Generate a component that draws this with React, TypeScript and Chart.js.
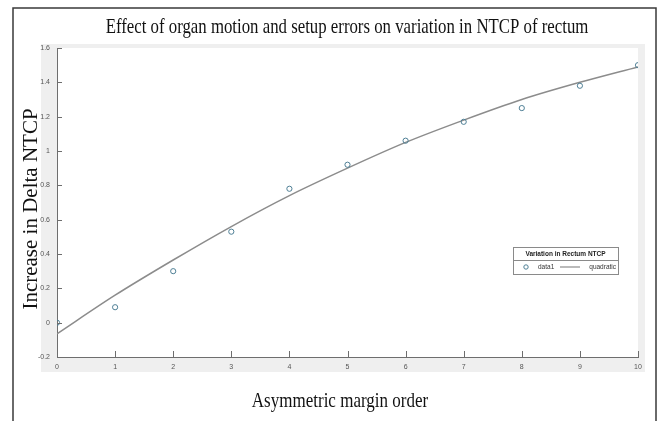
import React, { useEffect, useRef } from "react";
import { Chart, registerables } from "chart.js";

Chart.register(...registerables);

const marginOrder = [0, 1, 2, 3, 4, 5, 6, 7, 8, 9, 10];
const deltaNTCP = [0.0, 0.09, 0.3, 0.53, 0.78, 0.92, 1.06, 1.17, 1.25, 1.38, 1.5];
const quadraticFit = [-0.065, 0.16, 0.365, 0.56, 0.74, 0.9, 1.05, 1.18, 1.3, 1.4, 1.49];
const titleText = "Effect of organ motion and setup errors on variation in NTCP of rectum";
const xLabel = "Asymmetric margin order";
const yLabel = "Increase in Delta NTCP";
const legendTitle = "Variation in Rectum NTCP";
const seriesNames = ["data1", "quadratic"];

const POINT_COLOR = "#4f8096";
const LINE_COLOR = "#8c8c8c";
const AXIS_COLOR = "#6e6e6e";
const SERIF = "'Liberation Serif', 'Times New Roman', serif";

function condensedText(ctx: any, text: string, x: number, y: number, sx: number) {
  ctx.save();
  ctx.translate(x, y);
  ctx.scale(sx, 1);
  ctx.fillText(text, 0, 0);
  ctx.restore();
}

const decorPlugin = {
  id: "decor",
  beforeDraw(chart: any) {
    const { ctx, chartArea: a } = chart;
    ctx.save();
    ctx.fillStyle = "#ffffff";
    ctx.fillRect(0, 0, chart.width, chart.height);
    ctx.fillStyle = "#efefef";
    ctx.fillRect(a.left - 16, a.top - 4, a.right - a.left + 23, a.bottom - a.top + 19);
    ctx.fillStyle = "#ffffff";
    ctx.fillRect(a.left, a.top, a.right - a.left, a.bottom - a.top);
    ctx.strokeStyle = "#3a3a3a";
    ctx.lineWidth = 1.5;
    ctx.beginPath();
    ctx.moveTo(13, chart.height + 5);
    ctx.lineTo(13, 8);
    ctx.lineTo(656, 8);
    ctx.lineTo(656, chart.height + 5);
    ctx.stroke();
    ctx.restore();
  },
  afterDraw(chart: any) {
    const { ctx, chartArea: a } = chart;
    const xs = chart.scales.x;
    const ys = chart.scales.y;
    ctx.save();
    ctx.strokeStyle = AXIS_COLOR;
    ctx.lineWidth = 1;
    ctx.beginPath();
    xs.ticks.forEach((t: any) => {
      const px = Math.round(xs.getPixelForValue(t.value)) + 0.5;
      ctx.moveTo(px, a.bottom);
      ctx.lineTo(px, a.bottom - 6);
    });
    ys.ticks.forEach((t: any) => {
      const py = Math.round(ys.getPixelForValue(t.value)) + 0.5;
      ctx.moveTo(a.left, py);
      ctx.lineTo(a.left + 5, py);
    });
    ctx.stroke();

    ctx.fillStyle = "#111";
    ctx.textAlign = "center";
    ctx.textBaseline = "alphabetic";
    ctx.font = "21px " + SERIF;
    condensedText(ctx, titleText, 347, 33, 0.8);
    condensedText(ctx, xLabel, 340, 407, 0.81);

    ctx.save();
    ctx.translate(37, 209);
    ctx.rotate(-Math.PI / 2);
    ctx.fillText(yLabel, 0, 0);
    ctx.restore();

    const lx = a.right - 125;
    const ly = a.top + 199;
    const lw = 105;
    const lh = 27;
    ctx.fillStyle = "#ffffff";
    ctx.fillRect(lx, ly, lw, lh);
    ctx.strokeStyle = "#8a8a8a";
    ctx.lineWidth = 1;
    ctx.strokeRect(lx + 0.5, ly + 0.5, lw, lh);
    ctx.beginPath();
    ctx.moveTo(lx, ly + 13.5);
    ctx.lineTo(lx + lw, ly + 13.5);
    ctx.stroke();
    ctx.fillStyle = "#222";
    ctx.font = "bold 6.5px 'Liberation Sans', Arial, sans-serif";
    ctx.textBaseline = "middle";
    ctx.fillText(legendTitle, lx + lw / 2, ly + 7);
    const ry = ly + 20;
    ctx.strokeStyle = POINT_COLOR;
    ctx.beginPath();
    ctx.arc(lx + 13, ry, 2.2, 0, Math.PI * 2);
    ctx.stroke();
    ctx.fillStyle = "#333";
    ctx.font = "6.5px 'Liberation Sans', Arial, sans-serif";
    ctx.textAlign = "left";
    ctx.fillText(seriesNames[0], lx + 25, ry);
    ctx.strokeStyle = LINE_COLOR;
    ctx.lineWidth = 1.2;
    ctx.beginPath();
    ctx.moveTo(lx + 47, ry);
    ctx.lineTo(lx + 67, ry);
    ctx.stroke();
    ctx.textAlign = "right";
    ctx.fillText(seriesNames[1], lx + lw - 2, ry);
    ctx.restore();
  },
};

export default function App() {
  const canvasRef = useRef<HTMLCanvasElement | null>(null);

  useEffect(() => {
    const canvas = canvasRef.current;
    if (!canvas) return;
    const chart = new Chart(canvas, {
      type: "line",
      data: {
        datasets: [
          {
            label: seriesNames[0],
            data: marginOrder.map((x, i) => ({ x, y: deltaNTCP[i] })),
            showLine: false,
            pointStyle: "circle",
            pointRadius: 2.6,
            pointBorderWidth: 1,
            borderColor: POINT_COLOR,
            pointBorderColor: POINT_COLOR,
            pointBackgroundColor: "rgba(0,0,0,0)",
            order: 0,
          },
          {
            label: seriesNames[1],
            data: marginOrder.map((x, i) => ({ x, y: quadraticFit[i] })),
            borderColor: LINE_COLOR,
            borderWidth: 1.5,
            pointRadius: 0,
            fill: false,
            cubicInterpolationMode: "monotone",
            order: 1,
          },
        ],
      },
      options: {
        animation: false,
        responsive: false,
        maintainAspectRatio: false,
        layout: { padding: { left: 0, right: 23, top: 48, bottom: 0 } },
        plugins: {
          legend: { display: false },
          title: { display: false },
          tooltip: { enabled: false },
        },
        scales: {
          x: {
            type: "linear",
            min: 0,
            max: 10,
            ticks: {
              stepSize: 1,
              padding: 6,
              color: "#555",
              font: { size: 7, family: "'Liberation Sans', Arial, sans-serif" },
              maxRotation: 0,
            },
            grid: { display: false, drawTicks: false },
            border: { display: true, color: AXIS_COLOR, width: 1 },
            afterFit: (s: any) => {
              s.height = 64;
            },
          },
          y: {
            type: "linear",
            min: -0.2,
            max: 1.6,
            ticks: {
              stepSize: 0.2,
              padding: 7,
              color: "#555",
              font: { size: 7, family: "'Liberation Sans', Arial, sans-serif" },
              callback: (v: any) => String(Math.round(Number(v) * 10) / 10),
            },
            grid: { display: false, drawTicks: false },
            border: { display: true, color: AXIS_COLOR, width: 1 },
            afterFit: (s: any) => {
              s.width = 57;
            },
          },
        },
      },
      plugins: [decorPlugin],
    });
    return () => chart.destroy();
  }, []);

  return (
    <div style={{ position: "absolute", left: 0, top: 0, width: 661, height: 421 }}>
      <canvas ref={canvasRef} width={661} height={421} style={{ width: 661, height: 421 }} />
    </div>
  );
}
